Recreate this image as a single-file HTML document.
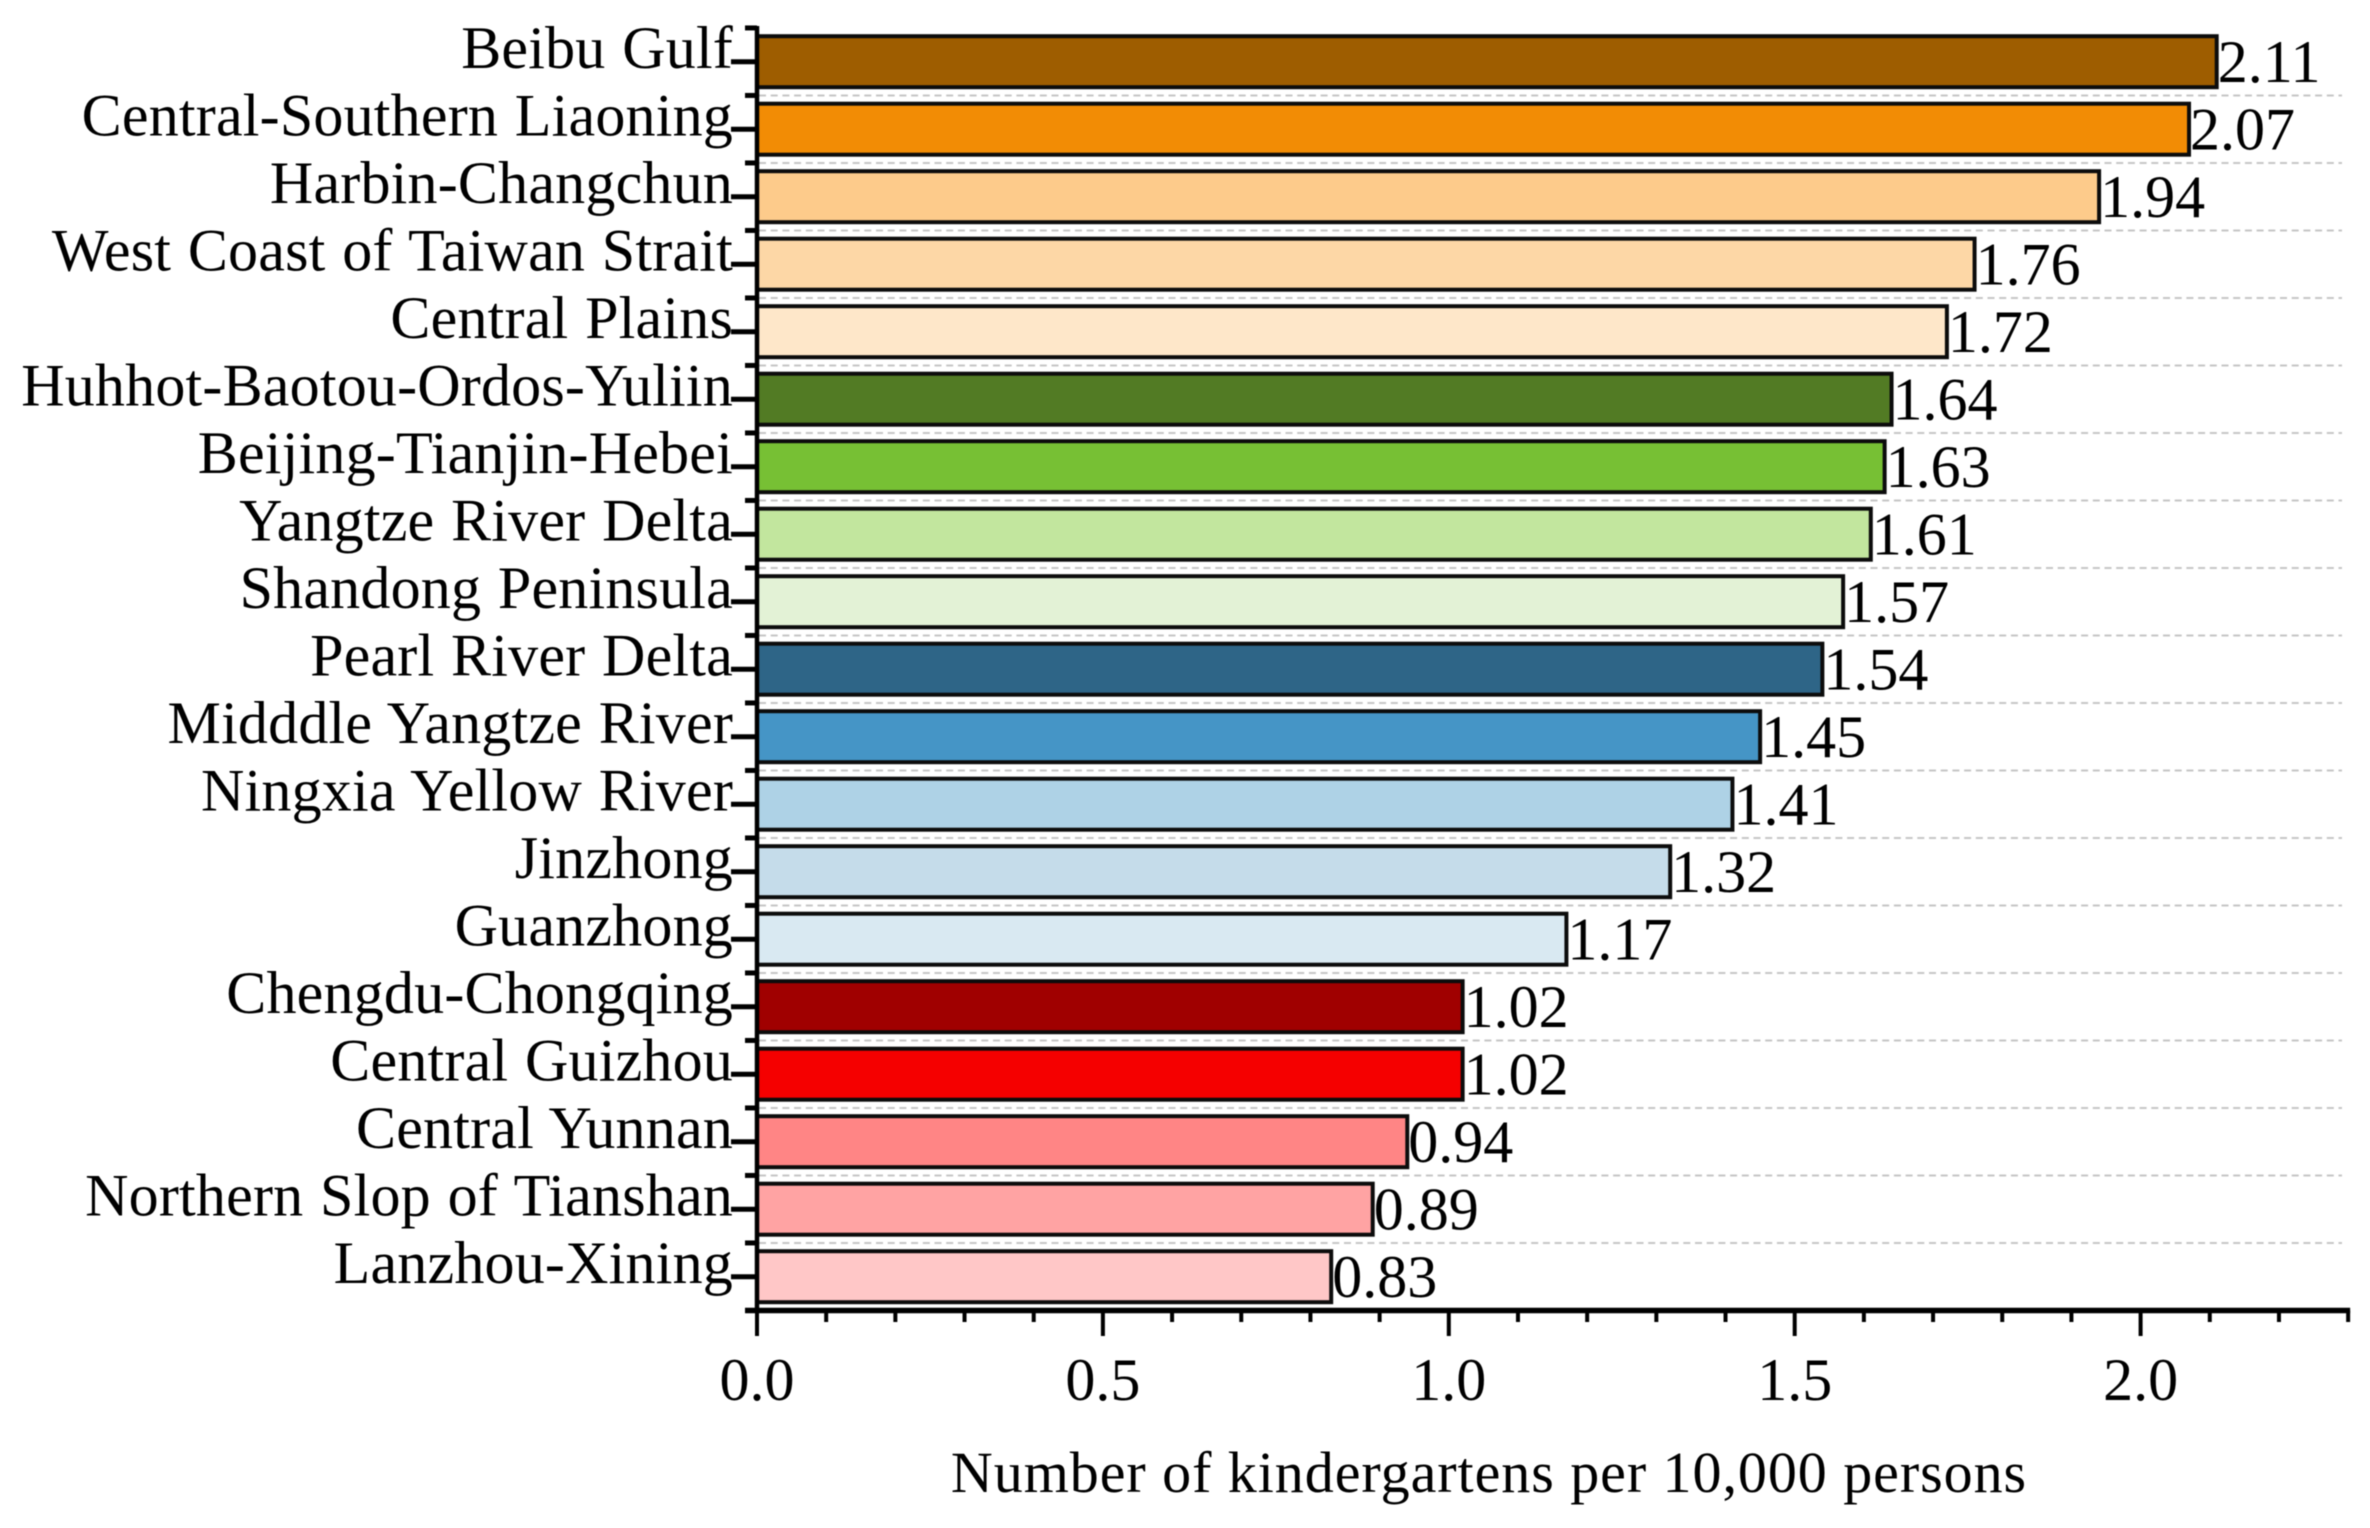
<!DOCTYPE html>
<html lang="en">
<head>
<meta charset="utf-8">
<title>Number of kindergartens per 10,000 persons</title>
<style>
html,body{margin:0;padding:0;background:#fff;width:2370px;height:1528px;overflow:hidden}
svg{display:block;filter:blur(0.5px)}
text{font-family:"Liberation Serif",serif;fill:#000;font-size:60px}
.cat{letter-spacing:0.2px;word-spacing:1.5px}
</style>
</head>
<body>
<svg id="chart" xmlns="http://www.w3.org/2000/svg" width="2370" height="1528" viewBox="0 0 2370 1528">
  <g id="grid"></g>
  <g id="bars"></g>
  <g id="values"></g>
  <g id="yaxis"></g>
  <g id="xaxis"></g>
  <text x="1489" y="1492" text-anchor="middle" style="font-size:58px;letter-spacing:0.95px">Number of kindergartens per 10,000 persons</text>
</svg>
<script>
const categories = ["Beibu Gulf","Central-Southern Liaoning","Harbin-Changchun","West Coast of Taiwan Strait","Central Plains","Huhhot-Baotou-Ordos-Yuliin","Beijing-Tianjin-Hebei","Yangtze River Delta","Shandong Peninsula","Pearl River Delta","Midddle Yangtze River","Ningxia Yellow River","Jinzhong","Guanzhong","Chengdu-Chongqing","Central Guizhou","Central Yunnan","Northern Slop of Tianshan","Lanzhou-Xining"];
const values = [2.11,2.07,1.94,1.76,1.72,1.64,1.63,1.61,1.57,1.54,1.45,1.41,1.32,1.17,1.02,1.02,0.94,0.89,0.83];
const barColors = ["#9e5d00","#f28c05","#fdcb8b","#fdd7a6","#fee7c9","#527b24","#77c034","#c2e69e","#e3f2d6","#2e6587","#4595c6","#aed2e6","#c5dcea","#d9e9f2","#a00000","#f50000","#ff8585","#ffa3a3","#ffc7c7"];
const majorTicks = [0,0.5,1,1.5,2];
const minorTicks = [0.1,0.2,0.3,0.4,0.6,0.7,0.8,0.9,1.1,1.2,1.3,1.4,1.6,1.7,1.8,1.9,2.1,2.2,2.3];
const majorLabels = ["0.0","0.5","1.0","1.5","2.0"];

const NS = "http://www.w3.org/2000/svg";
const X0 = 757, X_UNIT = 691.8, Y0 = 61.7, BAND = 67.5, BAR_H = 51;
const xScale = v => X0 + v * X_UNIT;
const yBand = i => Y0 + i * BAND;
const xMax = 2.3;
const axisBottom = yBand(categories.length - 1) + BAND / 2;
const axisTop = yBand(0) - BAND / 2;

function mk(tag, parent, attrs, txt) {
  const el = document.createElementNS(NS, tag);
  for (const k in attrs) el.setAttribute(k, attrs[k]);
  if (txt !== undefined) el.textContent = txt;
  parent.appendChild(el);
  return el;
}
const grid = document.getElementById("grid");
const bars = document.getElementById("bars");
const valueLayer = document.getElementById("values");
const yaxis = document.getElementById("yaxis");
const xaxis = document.getElementById("xaxis");

for (let i = 0; i < categories.length - 1; i++) {
  const gy = yBand(i) + BAND / 2;
  const g = mk("line", grid, {x1: X0 + 2, x2: 2342, y1: gy, y2: gy, stroke: "#c6c6c6", "stroke-width": 2, "stroke-dasharray": "7 4.7"});
  
  
}

categories.forEach((name, i) => {
  const cy = yBand(i);
  const r = mk("rect", bars, {x: xScale(0), y: cy - BAR_H / 2, width: xScale(values[i]) - xScale(0), height: BAR_H, fill: barColors[i], stroke: "#0c0c0c", "stroke-width": 4});
  
  

  const t = mk("text", valueLayer, {x: xScale(values[i]) + 1, y: cy + 20.5}, values[i].toFixed(2));
  
  

  const tick = mk("line", yaxis, {x1: 731, x2: X0, y1: cy, y2: cy, stroke: "#000", "stroke-width": 5});
  
  

  const lab = mk("text", yaxis, {x: 733, y: cy + 6.5, "text-anchor": "end", "class": "cat"}, name);
  
  
});

for (let i = -1; i < categories.length; i++) {
  const my = yBand(i) + BAND / 2;
  const m = mk("line", yaxis, {x1: 745, x2: X0, y1: my, y2: my, stroke: "#000", "stroke-width": 5});
  
  
}

const ySpine = mk("line", yaxis, {x1: X0, x2: X0, y1: axisTop - 2, y2: axisBottom + 2, stroke: "#000", "stroke-width": 4.5});



const xSpine = mk("line", xaxis, {x1: 745, x2: xScale(xMax) + 2, y1: axisBottom, y2: axisBottom, stroke: "#000", "stroke-width": 5.5});



majorTicks.forEach((v, i) => {
  const t = mk("line", xaxis, {x1: xScale(v), x2: xScale(v), y1: axisBottom, y2: 1336, stroke: "#000", "stroke-width": 4});
  
  
  const l = mk("text", xaxis, {x: xScale(v), y: 1400, "text-anchor": "middle"}, majorLabels[i]);
  
  
});
minorTicks.forEach(v => {
  const t = mk("line", xaxis, {x1: xScale(v), x2: xScale(v), y1: axisBottom, y2: 1322, stroke: "#000", "stroke-width": 4});
  
  
});
</script>
</body>
</html>
